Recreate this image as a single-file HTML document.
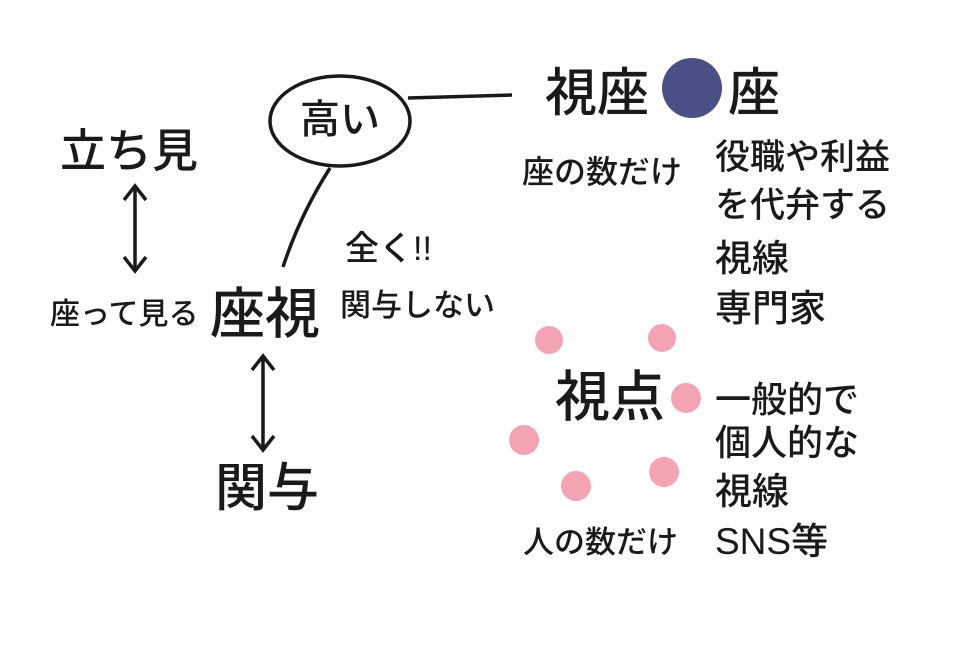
<!DOCTYPE html>
<html><head><meta charset="utf-8"><style>
html,body{margin:0;padding:0;background:#fff;}
body{width:980px;height:649px;position:relative;overflow:hidden;font-family:"Liberation Sans","Noto Sans CJK JP",sans-serif;color:#1a1a1a;}
.t{position:absolute;white-space:nowrap;line-height:1;font-weight:500;}
svg{position:absolute;left:0;top:0;}
</style></head><body>
<svg width="980" height="649">
<ellipse cx="340" cy="121" rx="70" ry="45" fill="none" stroke="#1a1a1a" stroke-width="3.5"/>
<path d="M408 98 L512 95" stroke="#1a1a1a" stroke-width="3.5" fill="none"/>
<path d="M330 168 Q300 215 283 267" stroke="#1a1a1a" stroke-width="3.5" fill="none"/>
<path d="M135 187 L135 270 M124 200 L135 186 L146 200 M124 257 L135 271 L146 257" stroke="#1a1a1a" stroke-width="3.5" fill="none"/>
<path d="M263 357 L263 449 M252 370 L263 356 L274 370 M252 436 L263 450 L274 436" stroke="#1a1a1a" stroke-width="3.5" fill="none"/>
<circle cx="692" cy="88" r="30" fill="#4a4f86"/>
<g fill="#f4a3b3">
<circle cx="549" cy="340" r="14"/><circle cx="662" cy="338" r="14"/>
<circle cx="686" cy="398" r="15"/><circle cx="524" cy="440" r="15"/>
<circle cx="576" cy="486" r="15"/><circle cx="664" cy="472" r="15"/>
</g>
</svg>
<div class="t" style="left:60px;top:128px;font-size:46px;">立ち見</div>
<div class="t" style="left:50px;top:300px;font-size:30px;">座って見る</div>
<div class="t" style="left:210px;top:287px;font-size:55px;">座視</div>
<div class="t" style="left:215px;top:463px;font-size:52px;">関与</div>
<div class="t" style="left:345px;top:232px;font-size:34px;">全く!!</div>
<div class="t" style="left:340px;top:290px;font-size:31px;">関与しない</div>
<div class="t" style="left:300px;top:100px;font-size:40px;">高い</div>
<div class="t" style="left:545px;top:68px;font-size:52px;">視座</div>
<div class="t" style="left:728px;top:68px;font-size:52px;">座</div>
<div class="t" style="left:522px;top:156px;font-size:32px;">座の数だけ</div>
<div class="t" style="left:715px;top:140px;font-size:35px;">役職や利益</div>
<div class="t" style="left:715px;top:188px;font-size:35px;">を代弁する</div>
<div class="t" style="left:715px;top:240px;font-size:37px;">視線</div>
<div class="t" style="left:715px;top:290px;font-size:37px;">専門家</div>
<div class="t" style="left:555px;top:370px;font-size:55px;">視点</div>
<div class="t" style="left:715px;top:382px;font-size:36px;">一般的で</div>
<div class="t" style="left:715px;top:425px;font-size:36px;">個人的な</div>
<div class="t" style="left:715px;top:473px;font-size:37px;">視線</div>
<div class="t" style="left:715px;top:523px;font-size:37px;">SNS等</div>
<div class="t" style="left:523px;top:527px;font-size:31px;">人の数だけ</div>
</body></html>
